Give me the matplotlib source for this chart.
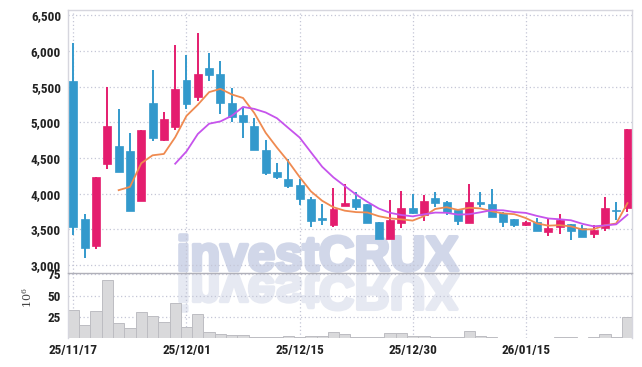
import matplotlib
matplotlib.use('Agg')
import matplotlib.pyplot as plt
import numpy as np
import pandas as pd
from matplotlib.textpath import TextPath
from matplotlib.patches import PathPatch
from matplotlib.font_manager import FontProperties
from matplotlib.transforms import Affine2D

# trading days (yy/mm/dd)
dates = ['25/11/17', '25/11/18', '25/11/19', '25/11/20', '25/11/21',
         '25/11/24', '25/11/25', '25/11/26', '25/11/27', '25/11/28',
         '25/12/01', '25/12/02', '25/12/03', '25/12/04', '25/12/05',
         '25/12/08', '25/12/09', '25/12/10', '25/12/11', '25/12/12',
         '25/12/15', '25/12/16', '25/12/17', '25/12/18', '25/12/19',
         '25/12/22', '25/12/23', '25/12/24', '25/12/26', '25/12/29',
         '25/12/30', '26/01/02', '26/01/05', '26/01/06', '26/01/07',
         '26/01/08', '26/01/09', '26/01/12', '26/01/13', '26/01/14',
         '26/01/15', '26/01/16', '26/01/19', '26/01/20', '26/01/21',
         '26/01/22', '26/01/23', '26/01/26', '26/01/27', '26/01/28']

opens = [5580, 3640, 3265, 4420, 4670, 4600, 3900, 5270, 4760, 4940,
         5590, 5360, 5760, 5680, 5270, 5100, 4950, 4620, 4300, 4200,
         4120, 3930, 3665, 3555, 3830, 3920, 3850, 3600, 3365, 3590,
         3805, 3705, 3935, 3880, 3765, 3590, 3880, 3850, 3730, 3640,
         3555, 3600, 3460, 3530, 3580, 3525, 3440, 3525, 3755, 3805]
closes = [3530, 3240, 4230, 4950, 4300, 3760, 4900, 4785, 5045, 5470,
          5260, 5680, 5670, 5275, 5080, 5010, 4620, 4290, 4235, 4110,
          3920, 3615, 3625, 3780, 3870, 3820, 3590, 3365, 3625, 3805,
          3730, 3900, 3870, 3750, 3615, 3880, 3855, 3670, 3600, 3560,
          3610, 3475, 3515, 3635, 3475, 3390, 3495, 3795, 3755, 4905]
highs = [6120, 3720, 4240, 5500, 5190, 4850, 4900, 5730, 5140, 6080,
         5940, 6250, 5980, 5855, 5480, 5200, 5060, 4760, 4435, 4490,
         4210, 3950, 3850, 4085, 4140, 4020, 3860, 3600, 3915, 4040,
         4000, 3980, 4020, 3895, 3790, 4140, 4030, 4060, 3740, 3650,
         3620, 3665, 3665, 3720, 3580, 3555, 3555, 3955, 3890, 4905]
lows = [3420, 3100, 3220, 4350, 4300, 3760, 3900, 4740, 4740, 4890,
        5190, 5300, 5580, 5125, 5000, 4775, 4620, 4260, 4210, 4085,
        3840, 3540, 3565, 3540, 3830, 3775, 3590, 3365, 3365, 3525,
        3720, 3615, 3820, 3705, 3565, 3590, 3815, 3670, 3540, 3530,
        3550, 3475, 3400, 3430, 3345, 3390, 3380, 3475, 3625, 3740]
# volume in millions of shares
volumes = [33.5, 15.2, 32.4, 68.2, 17.3, 11.6, 31.0, 25.4, 18.5, 41.6,
           12.7, 27.7, 6.9, 4.3, 3.1, 3.4, 1.5, 1.5, 1.2, 2.2,
           1.2, 1.9, 2.2, 6.9, 4.3, 1.2, 1.0, 1.0, 5.8, 5.8,
           2.7, 2.7, 1.5, 0.8, 0.8, 8.4, 2.7, 1.5, 0.5, 0.5,
           0.5, 0.5, 0.5, 1.5, 1.5, 0.5, 0.8, 5.0, 1.5, 25.0]

tick_idx = [0, 10, 20, 30, 40]

UP = '#e41d6e'
DOWN = '#3399cc'
MA5_C = '#ef8a50'
MA10_C = '#c653ec'
GRID_C = '#c4c6d6'
TXT_C = '#222222'

tick_font = FontProperties(family=['Roboto Condensed', 'DejaVu Sans'],
                           weight='bold', size=9.5)

df = pd.DataFrame({'date': dates, 'open': opens, 'high': highs,
                   'low': lows, 'close': closes, 'vol': volumes})
x = np.arange(len(df))
ma5 = df['close'].rolling(5).mean()
ma10 = df['close'].rolling(10).mean()
colors = [UP if c > o else DOWN for o, c in zip(df['open'], df['close'])]

W, H = 642, 367
fig = plt.figure(figsize=(W / 100, H / 100), dpi=100)
fig.patch.set_facecolor('white')
ax = fig.add_axes([68 / W, 1 - 273 / H, 564 / W, 263 / H])
axv = fig.add_axes([68 / W, 1 - 338 / H, 564 / W, 65 / H], sharex=ax)
for a in (ax, axv):
    a.set_facecolor('none')
    for s in a.spines.values():
        s.set_color('#d6d6de')
        s.set_linewidth(1)
    a.grid(True, color=GRID_C, linestyle=(0, (1, 2)), linewidth=0.9)
    a.set_axisbelow(True)
    a.tick_params(length=0, colors=TXT_C)

# watermark with reflection, drawn under the axes
wm_prop = FontProperties(family=['Liberation Sans', 'DejaVu Sans'], weight='bold')
tp = TextPath((0, 0), 'investCRUX', size=100, prop=wm_prop)
ext = tp.get_extents()
sx = (458 - 180) / ext.width
sy = (271 - 235) / ext.height
to_fig = Affine2D().scale(1 / W, 1 / H) + fig.transFigure
base = Affine2D().translate(-ext.x0, -ext.y0)
main_tr = base + Affine2D().scale(sx, sy).translate(180, H - 271) + to_fig
refl_tr = base + Affine2D().scale(sx, -sy).translate(180, H - 275) + to_fig
fig.patches.append(PathPatch(tp, facecolor='#d1d7e9', edgecolor='#d1d7e9',
                             linewidth=2.6, joinstyle='round',
                             transform=main_tr, zorder=-5))
fig.patches.append(PathPatch(tp, facecolor='#e6e9f2', edgecolor='#e6e9f2',
                             linewidth=2.6, joinstyle='round',
                             transform=refl_tr, zorder=-5))

# candles
ax.vlines(x, df['low'], df['high'], colors=colors, linewidth=1.4, zorder=2)
body_bottom = np.minimum(df['open'], df['close'])
body_h = np.maximum((df['close'] - df['open']).abs(), 12)
ax.bar(x, body_h, bottom=body_bottom, width=0.7, color=colors,
       edgecolor=colors, linewidth=0.5, zorder=3)
ax.plot(x, ma5, color=MA5_C, linewidth=1.3, zorder=4)
ax.plot(x, ma10, color=MA10_C, linewidth=1.3, zorder=4)

ax.set_ylim(2888, 6577)
ax.set_yticks(np.arange(3000, 6501, 500))
ax.set_yticklabels([f'{v:,}' for v in range(3000, 6501, 500)],
                   fontproperties=tick_font)
ax.tick_params(axis='y', pad=5)
ax.tick_params(axis='x', labelbottom=False)
ax.spines['bottom'].set_visible(False)

# volume
axv.bar(x, df['vol'], width=1.0, color='#d9d9db', edgecolor='#bdbdc2',
        linewidth=0.7, zorder=2)
axv.set_ylim(0, 76.6)
axv.set_yticks([25, 50, 75])
axv.set_yticklabels(['25', '50', '75'], fontproperties=tick_font)
axv.tick_params(axis='y', pad=5)
axv.spines['top'].set_color('#b0b0b8')
axv.spines['bottom'].set_visible(False)
axv.set_xticks(tick_idx)
axv.set_xticklabels([dates[i] for i in tick_idx], fontproperties=tick_font)
axv.tick_params(axis='x', pad=4)
axv.set_xlim(-0.48, 49.4)

fig.text(27 / W, 1 - 298 / H, r'$10^{6}$', rotation=90, ha='center',
         va='center', fontsize=8, color='#444444', math_fontfamily='dejavuserif')

fig.savefig('out.png', dpi=100, facecolor='white')
